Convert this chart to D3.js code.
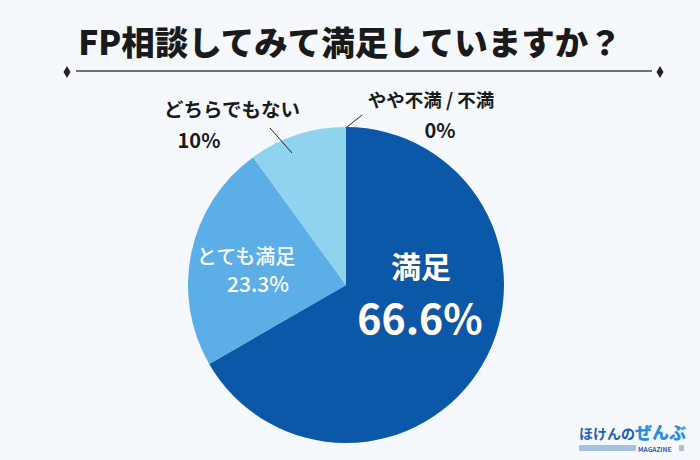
<!DOCTYPE html>
<html><head><meta charset="utf-8">
<script src="https://cdn.jsdelivr.net/npm/d3@7"></script>
<style>
html,body{margin:0;padding:0;background:#f5f9fd;}
svg{display:block;font-family:"Noto Sans CJK JP","Noto Sans",sans-serif;}
</style></head>
<body>
<svg id="c" width="700" height="460"></svg>
<script>
const title = "FP相談してみて満足していますか？";
const categories = ["満足", "とても満足", "どちらでもない", "やや不満 / 不満"];
const values = [66.6, 23.3, 10, 0];
const labels = ["66.6%", "23.3%", "10%", "0%"];
const colors = ["#0b57a8", "#5caee6", "#8fd3ef", "#c8e8f6"];

const svg = d3.select("#c");
svg.append("rect").attr("width",700).attr("height",460).attr("fill","#f5f9fd");

// title
svg.append("text").attr("x",350).attr("y",55).attr("text-anchor","middle")
  .attr("font-size",33.5).attr("font-weight",900).attr("fill","#1a1a1a").text(title);
svg.append("line").attr("x1",76).attr("x2",652).attr("y1",71).attr("y2",71)
  .attr("stroke","#444").attr("stroke-width",1.3);
[67,660].forEach(x=>{
  svg.append("path").attr("d",`M${x},${66} L${x+3.5},${72} L${x},${78} L${x-3.5},${72} Z`).attr("fill","#222");
});

const cx=346, cy=285, R=158;
const g = svg.append("g").attr("transform",`translate(${cx},${cy})`);
const pie = d3.pie().sort(null).value(d=>d)(values);
const arc = d3.arc().innerRadius(0).outerRadius(R);
g.selectAll("path.s").data(pie).join("path").attr("class","s")
  .attr("d",arc).attr("fill",(d,i)=>colors[i]);

// inside labels
g.append("text").attr("x",75).attr("y",-7).attr("text-anchor","middle")
  .attr("font-size",30).attr("font-weight",700).attr("fill","#fff")
  .attr("stroke","#555").attr("stroke-width",0.6).attr("paint-order","stroke")
  .text(categories[0]);
g.append("text").attr("x",74).attr("y",49).attr("text-anchor","middle")
  .attr("font-size",41).attr("font-weight",700).attr("fill","#fff")
  .attr("stroke","#555").attr("stroke-width",0.8).attr("paint-order","stroke")
  .text(labels[0]);
g.append("text").attr("x",-100).attr("y",-21).attr("text-anchor","middle")
  .attr("font-size",20).attr("font-weight",500).attr("fill","#fff").text(categories[1]);
g.append("text").attr("x",-88).attr("y",7).attr("text-anchor","middle")
  .attr("font-size",21).attr("font-weight",500).attr("fill","#fff").text(labels[1]);

// outside labels
svg.append("line").attr("x1",270).attr("y1",128).attr("x2",292).attr("y2",153)
  .attr("stroke","#222").attr("stroke-width",1);
svg.append("text").attr("x",232).attr("y",117).attr("text-anchor","middle")
  .attr("font-size",19.5).attr("font-weight",700).attr("fill","#1a1a1a").text(categories[2]);
svg.append("text").attr("x",199).attr("y",148).attr("text-anchor","middle")
  .attr("font-size",20).attr("font-weight",700).attr("fill","#1a1a1a").text(labels[2]);
svg.append("line").attr("x1",347).attr("y1",127).attr("x2",362).attr("y2",115)
  .attr("stroke","#222").attr("stroke-width",1);
svg.append("text").attr("x",431).attr("y",107).attr("text-anchor","middle")
  .attr("font-size",18.5).attr("font-weight",700).attr("fill","#1a1a1a").text(categories[3]);
svg.append("text").attr("x",440).attr("y",138).attr("text-anchor","middle")
  .attr("font-size",20).attr("font-weight",700).attr("fill","#1a1a1a").text(labels[3]);

// logo
const lg = svg.append("g");
lg.append("text").attr("x",579).attr("y",439).attr("font-size",14).attr("font-weight",700)
  .attr("fill","#1d5fb3").text("ほけんの");
lg.append("text").attr("x",635).attr("y",439).attr("font-size",17).attr("font-weight",900)
  .attr("fill","#2c8be0").text("ぜんぶ");
for(let k=0;k<3;k++){
  lg.append("line").attr("x1",579).attr("x2",636).attr("y1",446+k*2).attr("y2",446+k*2)
    .attr("stroke","#4a78c2").attr("stroke-width",0.9);
}
lg.append("text").attr("x",638).attr("y",451.5).attr("font-size",6.5).attr("font-weight",700)
  .attr("fill","#1d5fb3").text("MAGAZINE");
for(let k=0;k<3;k++){
  lg.append("line").attr("x1",679).attr("x2",684).attr("y1",446+k*2).attr("y2",446+k*2)
    .attr("stroke","#4a78c2").attr("stroke-width",0.9);
}
</script>
</body></html>
